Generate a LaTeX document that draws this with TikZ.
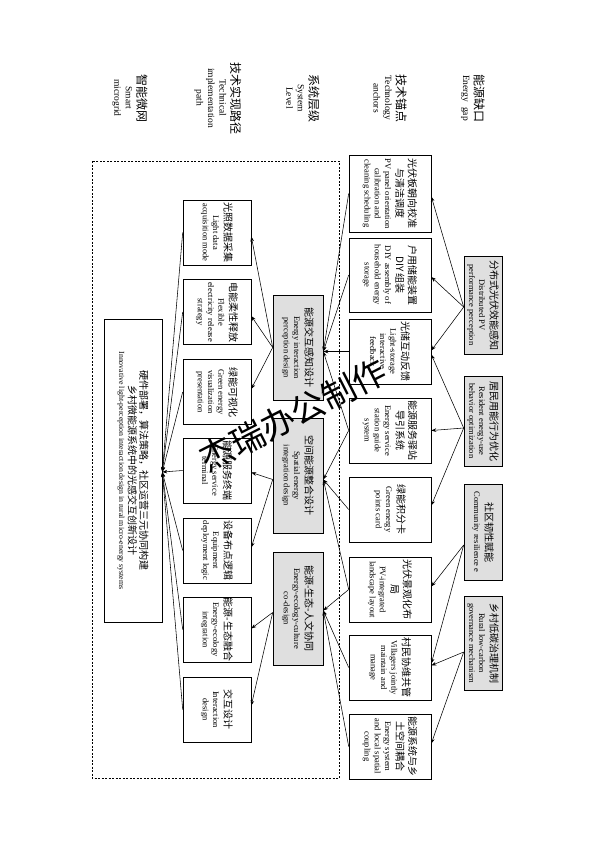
\documentclass[tikz,border=0pt]{standalone}
\usepackage{fontspec}
\setmainfont{Liberation Serif}
\newfontfamily\cjk{Noto Sans CJK SC}
\usepackage{graphicx}
\usetikzlibrary{arrows.meta,calc}
\newcommand{\bx}[3]{\rotatebox{-90}{\parbox{#1pt}{\centering{\cjk\fontsize{10}{12.5}\selectfont #2\par}\vspace{1pt}{\fontsize{8.5}{10.2}\selectfont #3\par}}}}
\newcommand{\hd}[2]{\rotatebox{-90}{\parbox{100pt}{\centering{\cjk\fontsize{12}{13}\selectfont #1\par}{\fontsize{9.5}{11.5}\selectfont #2\par}}}}
\tikzset{
  box/.style={draw, line width=0.6pt, inner sep=0pt, fill=white},
  gbox/.style={box, fill=gray!25},
  abox/.style={box, minimum width=82pt},
  sbox/.style={gbox, minimum width=50pt},
  tbox/.style={box, minimum width=68pt, minimum height=65pt},
  gapbox/.style={gbox, minimum width=38pt},
  arr/.style={-{Stealth[length=5pt,width=3.6pt]}, line width=0.55pt},
  hdr/.style={inner sep=0pt}
}
\begin{document}
\begin{tikzpicture}[x=1pt,y=-1pt]
\useasboundingbox (0,0) rectangle (594,841);
\fill[white] (0,0) rectangle (594,841);

% headers
\node[hdr] (h1) at (473,98) {\hd{能源缺口}{Energy\ \ gap}};
\node[hdr] (h2) at (390,98) {\hd{技术锚点}{Technology\\anchors}};
\node[hdr] (h3) at (303,98) {\hd{系统层级}{System\\Level}};
\node[hdr] (h4) at (218,98) {\hd{技术实现路径}{Technical\\implementation\\path}};
\node[hdr] (h5) at (130,98) {\hd{智能微网}{Smart\\microgrid}};

% dashed frame
\draw[line width=0.5pt, dash pattern=on 2pt off 1.5pt] (92,161) rectangle (339,778);

% energy gap
\node[gapbox, minimum height=98pt] (G1) at (483,305) {\bx{94}{分布式光伏效能感知}{Distributed PV\\performance perception}};
\node[gapbox, minimum height=90pt] (G2) at (483,421) {\bx{86}{居民用能行为优化}{Resident energy-use\\behavior optimization}};
\node[gapbox, minimum height=96pt] (G3) at (483,532) {\bx{92}{社区韧性赋能}{Community resilience e}};
\node[gapbox, minimum height=94pt] (G4) at (483,643) {\bx{90}{乡村低碳治理机制}{Rural low-carbon\\governance mechanism}};

% technology anchors
\node[abox, minimum height=77pt] (A1) at (390,193.5) {\bx{73}{光伏板朝向校准\\与清洁调度}{PV panel orientation\\calibration and\\cleaning scheduling}};
\node[abox, minimum height=74pt] (A2) at (390,275) {\bx{70}{户用储能装置\\DIY 组装}{DIY assembly of\\household energy\\storage}};
\node[abox, minimum height=65pt] (A3) at (390,351.5) {\bx{62}{光储互动反馈}{Light-storage\\interactive\\feedback}};
\node[abox, minimum height=65pt] (A4) at (390,430.5) {\bx{62}{能源服务驿站\\导引系统}{Energy service\\station guide\\system}};
\node[abox, minimum height=65pt] (A5) at (390,509.5) {\bx{62}{绿能积分卡}{Green energy\\points card}};
\node[abox, minimum height=65pt] (A6) at (390,589.5) {\bx{62}{光伏景观化布\\局}{PV-integrated\\landscape layout}};
\node[abox, minimum height=65pt] (A7) at (390,667.5) {\bx{62}{村民协维共管}{Villagers jointly\\maintain and\\manage}};
\node[abox, minimum height=65pt] (A8) at (390,746.5) {\bx{62}{能源系统与乡\\土空间耦合}{Energy system\\and local spatial\\coupling}};

% system level
\node[sbox, minimum height=105pt] (S1) at (298,347.5) {\bx{100}{能源交互感知设计}{Energy interaction\\perception design}};
\node[sbox, minimum height=115pt] (S2) at (298,475.5) {\bx{110}{空间能源整合设计}{Spatial energy\\integration design}};
\node[sbox, minimum height=113pt] (S3) at (298,608.5) {\bx{108}{\mbox{能源-生态-人文协同}}{Energy-ecology-culture\\co-design}};

% technical implementation path
\node[tbox] (T1) at (217,232.5) {\bx{62}{光照数据采集}{Light data\\acquisition mode}};
\node[tbox] (T2) at (217,312) {\bx{62}{电能柔性释放}{Flexible\\electricity release\\strategy}};
\node[tbox] (T3) at (217,392) {\bx{62}{绿能可视化}{Green energy\\visualization\\presentation}};
\node[tbox] (T4) at (217,470.5) {\bx{62}{能源服务终端}{Energy service\\terminal}};
\node[tbox] (T5) at (217,550.5) {\bx{62}{设备布点逻辑}{Equipment\\deployment logic}};
\node[tbox] (T6) at (217,629.5) {\bx{62}{\makebox[62pt][c]{能源-生态融合}}{Energy-ecology\\integration}};
\node[tbox] (T7) at (217,709.5) {\bx{62}{交互设计}{Interaction\\design}};

% smart microgrid
\node[box, minimum width=58pt, minimum height=303pt] (M) at (133,470.5) {\rotatebox{-90}{\parbox{295pt}{\centering{\cjk\fontsize{10}{11.5}\selectfont 硬件部署，算法策略，社区运营三元协同构建\\乡村微能源系统中的光感交互创新设计\par}\vspace{0.5pt}{\fontsize{7.8}{9}\selectfont Innovative light-perception interaction design in rural micro-energy systems\par}}}};

% convergence points
\coordinate (g1p) at ($(G1.west)+(0,2)$);
\coordinate (g2p) at ($(G2.west)+(0,7)$);
\coordinate (g3p) at ($(G3.west)+(0,13)$);
\coordinate (g4p) at ($(G4.west)+(0,9)$);
\coordinate (s1p) at ($(S1.east)+(0,4)$);
\coordinate (s2p) at ($(S2.east)+(0,4)$);
\coordinate (s3p) at ($(S3.east)+(0,2)$);
\coordinate (mp) at ($(M.east)+(0,1.5)$);

% gap -> anchors
\draw[arr] (g1p) -- ($(A1.east)+(0,3)$);
\draw[arr] (g1p) -- ($(A2.east)+(0,2)$);
\draw[arr] (g1p) -- ($(A3.east)+(0,-1)$);
\draw[arr] (g2p) -- ($(A3.east)+(0,3)$);
\draw[arr] (g2p) -- (A4.east);
\draw[arr] (g2p) -- ($(A5.east)+(0,-4)$);
\draw[arr] (g3p) -- ($(A6.east)+(0,-3)$);
\draw[arr] (g3p) -- ($(A7.east)+(0,-4)$);
\draw[arr] (g4p) -- ($(A7.east)+(0,-2)$);
\draw[arr] (g4p) -- ($(A8.east)+(0,-3)$);

% anchors -> system
\draw[arr] (A1.west) -- (s1p);
\draw[arr] (A2.west) -- (s1p);
\draw[arr] (A3.west) -- (s1p);
\draw[arr] (A4.west) -- (s1p);
\draw[arr] (A4.west) -- (s2p);
\draw[arr] (A5.west) -- (s2p);
\draw[arr] (A6.west) -- (s2p);
\draw[arr] (A6.west) -- (s3p);
\draw[arr] (A7.west) -- (s3p);
\draw[arr] (A8.west) -- (s3p);

% system -> technical path
\draw[arr] (S1.west) -- ($(T1.east)+(0,4)$);
\draw[arr] (S1.west) -- ($(T2.east)+(0,4)$);
\draw[arr] (S1.west) -- ($(T3.east)+(0,-3)$);
\draw[arr] ($(S2.west)+(0,4)$) -- ($(T4.east)+(0,2)$);
\draw[arr] ($(S2.west)+(0,4)$) -- ($(T5.east)+(0,-3)$);
\draw[arr] ($(S3.west)+(0,4)$) -- ($(T6.east)+(0,-1)$);
\draw[arr] ($(S3.west)+(0,4)$) -- ($(T7.east)+(0,-4)$);

% technical path -> microgrid
\foreach \t in {T1,T2,T3,T4,T5,T6,T7}{\draw[arr] (\t.west) -- (mp);}

% watermark
\node[font=\cjk\fontsize{34}{34}\selectfont, rotate=27, inner sep=0pt] (wm) at (293,415) {杰瑞办公制作};
\end{tikzpicture}
\end{document}
